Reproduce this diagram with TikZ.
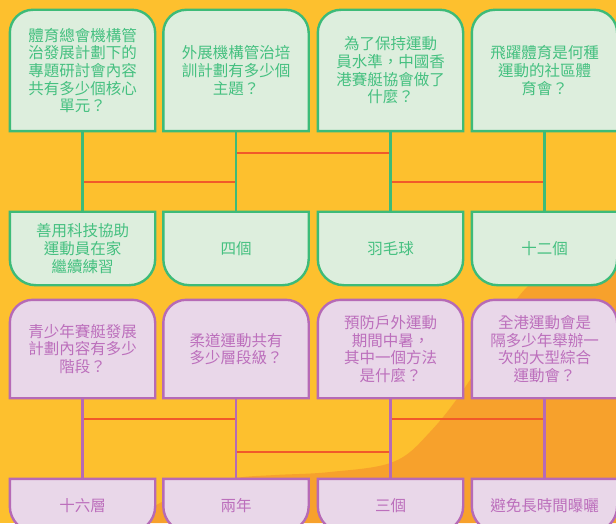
\documentclass[tikz,border=0pt]{standalone}
\usepackage{fontspec}
\newfontfamily\cjk{Noto Sans CJK TC}
\pgfdeclarelayer{bg}
\pgfdeclarelayer{boxes}
\pgfsetlayers{bg,boxes,main}
\definecolor{bgyellow}{HTML}{FDC02E}
\definecolor{bgorange}{HTML}{F7A12C}
\definecolor{redline}{HTML}{F15A29}
\definecolor{gborder}{HTML}{3DBB78}
\definecolor{gfill}{HTML}{DDEEDD}
\definecolor{gtext}{HTML}{45C080}
\definecolor{pborder}{HTML}{B66AB6}
\definecolor{pfill}{HTML}{E9D7E9}
\definecolor{ptext}{HTML}{BC6FBC}
\begin{document}
\begin{tikzpicture}[x=1pt,y=1pt,
  txt/.style={minimum width=145pt, inner sep=0pt, align=center,
    font=\cjk\fontsize{15.5pt}{17.7pt}\selectfont},
  gq/.style={txt, text=gtext, minimum height=121pt},
  ga/.style={txt, text=gtext, minimum height=73pt},
  pq/.style={txt, text=ptext, minimum height=98pt},
  pa/.style={txt, text=ptext, minimum height=53pt},
  gbox/.style={draw=gborder, fill=gfill, line width=2.4pt},
  pbox/.style={draw=pborder, fill=pfill, line width=2.4pt},
  gline/.style={draw=gborder, line width=2.2pt},
  pline/.style={draw=pborder, line width=2.2pt},
  rline/.style={draw=redline, line width=2.6pt},
  toprnd/.style={insert path={(#1.south west) -- ([yshift=-23pt]#1.north west)
     arc[start angle=180,end angle=90,radius=23pt] -- ([xshift=-23pt]#1.north east)
     arc[start angle=90,end angle=0,radius=23pt] -- (#1.south east) -- cycle}},
  botrnd/.style={insert path={(#1.north west) -- ([yshift=26pt]#1.south west)
     arc[start angle=180,end angle=270,radius=26pt] -- ([xshift=-26pt]#1.south east)
     arc[start angle=270,end angle=360,radius=26pt] -- (#1.north east) -- cycle}}
]
\useasboundingbox (0,0) rectangle (616,523);
\clip (0,0) rectangle (616,523);

% nodes (text)
\node[gq] (q1) at (82.5,452.5) {體育總會機構管\\治發展計劃下的\\專題研討會內容\\共有多少個核心\\單元？};
\node[gq] (q2) at (236,452.5) {外展機構管治培\\訓計劃有多少個\\主題？};
\node[gq] (q3) at (390.5,452.5) {為了保持運動\\員水準，中國香\\港賽艇協會做了\\什麼？};
\node[gq] (q4) at (544.5,452.5) {飛躍體育是何種\\運動的社區體\\育會？};

\node[ga] (a1) at (82.5,274.5) {善用科技協助\\運動員在家\\繼續練習};
\node[ga] (a2) at (236,274.5) {四個};
\node[ga] (a3) at (390.5,274.5) {羽毛球};
\node[ga] (a4) at (544.5,274.5) {十二個};

\node[pq] (p1) at (82.5,174) {青少年賽艇發展\\計劃內容有多少\\階段？};
\node[pq] (p2) at (236,174) {柔道運動共有\\多少層段級？};
\node[pq] (p3) at (390.5,174) {預防戶外運動\\期間中暑，\\其中一個方法\\是什麼？};
\node[pq] (p4) at (544.5,174) {全港運動會是\\隔多少年舉辦一\\次的大型綜合\\運動會？};

\node[pa] (b1) at (82.5,17.5) {十六層};
\node[pa] (b2) at (236,17.5) {兩年};
\node[pa] (b3) at (390.5,17.5) {三個};
\node[pa] (b4) at (544.5,17.5) {避免長時間曝曬};

% background
\begin{pgfonlayer}{bg}
\fill[bgyellow] (0,0) rectangle (616,523);
\fill[bgorange] plot[smooth, tension=0.6] coordinates {(640,320) (616,292) (527,236) (470,143) (430,91) (393,61) (330,51) (275,48) (236,45) (190,35) (160,20) (125,0)} -- (616,0) -- cycle;
\end{pgfonlayer}

% boxes
\begin{pgfonlayer}{boxes}
\foreach \n in {q1,q2,q3,q4} {\draw[gbox, toprnd=\n];}
\foreach \n in {a1,a2,a3,a4} {\draw[gbox, botrnd=\n];}
\foreach \n in {p1,p2,p3,p4} {\draw[pbox, toprnd=\n];}
\foreach \n in {b1,b2,b3,b4} {\draw[pbox, botrnd=\n];}
\end{pgfonlayer}

% horizontal connector levels
\coordinate (ht1) at (0,341);
\coordinate (ht2) at (0,370);
\coordinate (hb1) at (0,104);
\coordinate (hb2) at (0,71);

\draw[rline] (q1.south |- ht1) -- (q2.south |- ht1);
\draw[rline] (q2.south |- ht2) -- (q3.south |- ht2);
\draw[rline] (q3.south |- ht1) -- (q4.south |- ht1);
\draw[rline] (p1.south |- hb1) -- (p2.south |- hb1);
\draw[rline] (p2.south |- hb2) -- (p3.south |- hb2);
\draw[rline] (p3.south |- hb1) -- (p4.south |- hb1);

% vertical connectors
\foreach \i in {1,2,3,4} {
  \draw[gline] (q\i.south) -- (a\i.north);
  \draw[pline] (p\i.south) -- (b\i.north);
}
\end{tikzpicture}
\end{document}
